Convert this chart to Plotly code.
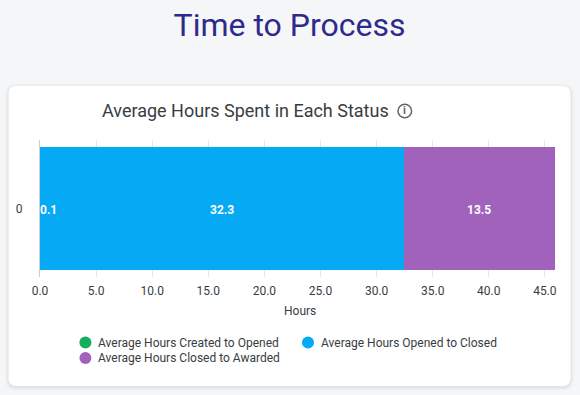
import plotly.graph_objects as go

categories = ["0"]
series_names = ["Average Hours Created to Opened", "Average Hours Opened to Closed", "Average Hours Closed to Awarded"]
series_values = [[0.1], [32.3], [13.5]]
legend_colors = ["#14AE5C", "#06A9F4", "#A162BC"]
# The reference's 0.1 segment does not show up in green at this width.
bar_colors = ["#06A9F4", "#06A9F4", "#A162BC"]
tick_values = [0, 5, 10, 15, 20, 25, 30, 35, 40, 45]
tick_labels = ["0.0", "5.0", "10.0", "15.0", "20.0", "25.0", "30.0", "35.0", "40.0", "45.0"]

W, H = 580, 395
L, R, T, B = 39.5, 24.5, 140, 118
FONT = "Roboto, sans-serif"
TEXT = "#373D3F"
pw, ph = W - L - R, H - T - B

def px(x):
    return (x - L) / pw

def py(y):
    return 1 - (y - T) / ph

def rrect(x0, y0, x1, y1, r):
    a, b, c, d = px(x0), px(x1), py(y0), py(y1)
    rx, ry = r / pw, r / ph
    return (f"M {a+rx} {c} L {b-rx} {c} Q {b} {c} {b} {c-ry} L {b} {d+ry} Q {b} {d} {b-rx} {d} "
            f"L {a+rx} {d} Q {a} {d} {a} {d+ry} L {a} {c-ry} Q {a} {c} {a+rx} {c} Z")

fig = go.Figure()
annotations = []
start = 0
for name, vals, color in zip(series_names, series_values, bar_colors):
    fig.add_trace(go.Bar(
        y=categories, x=vals, orientation="h", name=name, marker=dict(color=color, line_width=0),
        showlegend=False, hoverinfo="skip", width=0.9,
    ))
    big = vals[0] > 1
    annotations.append(dict(
        text=f"{vals[0]:.1f}", xref="x", yref="y", x=start + vals[0] / 2 if big else start, y=categories[0],
        xanchor="center" if big else "left", yanchor="middle", yshift=-1.5, xshift=0 if big else -2,
        showarrow=False, font=dict(family=FONT, size=12, color="white", weight="bold"),
    ))
    start += vals[0]

shapes = []
for off, op in [(4, 0.012), (3, 0.018), (2, 0.025), (1, 0.03)]:
    shapes.append(dict(type="path", xref="paper", yref="paper", layer="below", line_width=0,
                       fillcolor=f"rgba(40,50,70,{op})", path=rrect(8 - off, 86 - off + 1, 571 + off, 386 + off + 1, 8 + off)))
shapes.append(dict(type="path", xref="paper", yref="paper", layer="below", line_width=0,
                   fillcolor="white", path=rrect(8, 86, 571, 386, 8)))
shapes.append(dict(type="circle", xref="paper", yref="paper", layer="above",
                   x0=px(398.2), x1=px(411.8), y0=py(117.8), y1=py(104.2),
                   line=dict(color="#63676A", width=1.5), fillcolor="rgba(0,0,0,0)"))

annotations += [
    dict(text="Average Hours Spent in Each Status", xref="paper", yref="paper", x=px(100), y=py(110.5),
         xanchor="left", yanchor="middle", showarrow=False, font=dict(family=FONT, size=18, color=TEXT)),
    dict(text="i", xref="paper", yref="paper", x=px(405), y=py(111), xanchor="center", yanchor="middle",
         showarrow=False, font=dict(family=FONT, size=11, color="#63676A", weight="bold")),
    dict(text="Hours", xref="paper", yref="paper", x=px(300.5), y=py(311), xanchor="center", yanchor="middle",
         showarrow=False, font=dict(family=FONT, size=12, color=TEXT)),
]
legend_pos = [(85, 342.5), (308, 342.5), (85, 358)]
for name, color, (lx, ly) in zip(series_names, legend_colors, legend_pos):
    shapes.append(dict(type="circle", xref="paper", yref="paper", layer="above", line_width=0, fillcolor=color,
                       x0=px(lx - 6), x1=px(lx + 6), y0=py(ly + 6), y1=py(ly - 6)))
    annotations.append(dict(text=name, xref="paper", yref="paper", x=px(lx + 11), y=py(ly), xanchor="left",
                            yanchor="middle", showarrow=False, font=dict(family=FONT, size=12, color=TEXT)))

fig.update_layout(
    width=W, height=H, autosize=False, barmode="stack", showlegend=False,
    margin=dict(l=L, r=R, t=T, b=B, pad=0),
    paper_bgcolor="#F5F6F8", plot_bgcolor="rgba(0,0,0,0)",
    font=dict(family=FONT, color=TEXT),
    title=dict(text="Time to Process", x=289.5 / W, xanchor="center", y=1 - 25 / H, yanchor="middle",
               font=dict(family=FONT, size=32, color="#2E2A8C")),
    shapes=shapes, annotations=annotations,
    xaxis=dict(range=[0, 45.9], tickvals=tick_values, ticktext=tick_labels, showgrid=True, gridcolor="#E4E6E8",
               gridwidth=1, zeroline=False, ticks="", showline=False,
               tickfont=dict(family=FONT, size=12, color=TEXT), ticklabelstandoff=5),
    yaxis=dict(type="category", range=[-0.5, 0.5], showline=True, linecolor="#C9CED3", linewidth=1,
               showgrid=False, ticks="", tickfont=dict(family=FONT, size=12, color=TEXT), ticklabelstandoff=14),
)
fig.write_html("out.html", config=dict(displayModeBar=False),
               post_script="document.body.style.margin='0';")
